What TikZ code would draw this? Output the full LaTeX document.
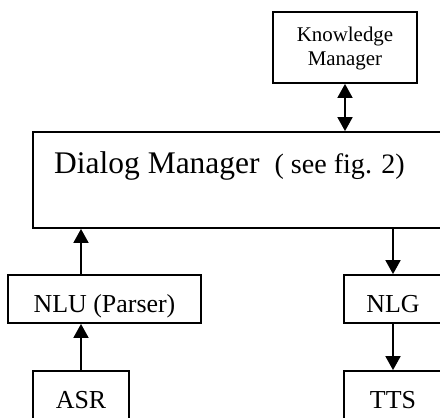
\documentclass[tikz,border=0pt]{standalone}
\usepackage{fontspec}
\setmainfont{Liberation Serif}
\usetikzlibrary{arrows.meta}
\begin{document}
\begin{tikzpicture}[x=1bp, y=-1bp,
  box/.style={draw, line width=1.8bp, inner sep=0pt, text=black},
  tip/.tip={Triangle[width=15bp, length=14bp]},
  arr/.style={line width=1.8bp, -tip},
  biarr/.style={line width=1.8bp, tip-tip},
  bigfont/.style={font=\fontsize{31.6}{36}\selectfont},
  midfont/.style={font=\fontsize{26}{30}\selectfont},
  smallfont/.style={font=\fontsize{21}{23.3}\selectfont}]
\useasboundingbox (0,0) rectangle (440,417);
\clip (0,0) rectangle (440,417);

% knowledge manager
\node[box, smallfont, align=center, minimum width=144bp, minimum height=71bp,
      text height=40bp, text depth=5bp] (km) at (345,47.5) {Knowledge\\Manager};

% dialog manager (runs past the right edge)
\node[box, minimum width=427bp, minimum height=96bp] (dm) at (246.5,180) {};
\node[bigfont, anchor=base west, inner sep=0pt] (dmtext) at (54,173)
  {Dialog Manager {\fontsize{28.2}{32}\selectfont\ ( see fig. 2)}};

% input side
\node[box, midfont, minimum width=193bp, minimum height=48bp,
      text height=26bp, text depth=0bp] (nlu) at (104.5,299) {NLU (Parser)};
\node[box, midfont, minimum width=96bp, minimum height=48bp,
      text height=26bp, text depth=0bp] (asr) at (81,395) {ASR};

% output side
\node[box, midfont, minimum width=98bp, minimum height=48bp,
      text height=26bp, text depth=0bp] (nlg) at (393,299) {NLG};
\node[box, midfont, minimum width=98bp, minimum height=48bp,
      text height=26bp, text depth=0bp] (tts) at (393,395) {TTS};

% connectors
\draw[biarr] (km.south) -- (km.south |- dm.north);
\draw[arr] (asr.north) -- (asr.north |- nlu.south);
\draw[arr] (asr.north |- nlu.north) -- (asr.north |- dm.south);
\draw[arr] (nlg.north |- dm.south) -- (nlg.north);
\draw[arr] (nlg.south) -- (tts.north);
\end{tikzpicture}
\end{document}
